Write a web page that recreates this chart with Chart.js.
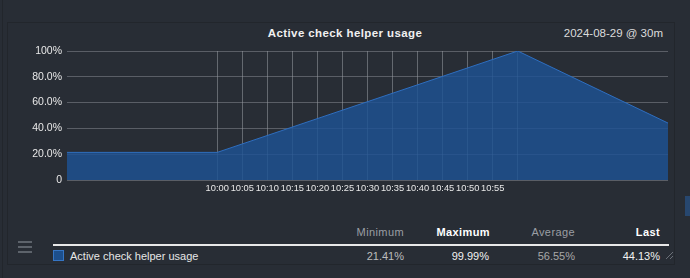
<!DOCTYPE html>
<html>
<head>
<meta charset="utf-8">
<script src="https://cdn.jsdelivr.net/npm/chart.js@4/dist/chart.umd.min.js"></script>
<style>
  html, body { margin: 0; padding: 0; background: #282d35; width: 690px; height: 278px; overflow: hidden; font-family: "Liberation Sans", Arial, sans-serif; }
  .edge { position: absolute; left: 2px; top: 0; width: 1px; height: 278px; background: #22262c; }
  .panel { position: absolute; left: 7px; top: 22px; width: 666px; height: 241px; border: 1px solid #22262c; }
  .title { position: absolute; left: 0; width: 690px; top: 27px; text-align: center; color: #f0f0f0; font-weight: bold; font-size: 11.5px; letter-spacing: 0.4px; }
  .stamp { position: absolute; right: 27px; top: 27px; color: #dcdcdc; font-size: 11.5px; }
  #wrap { position: absolute; left: 0; top: 0; width: 690px; height: 200px; }
  .menu { position: absolute; left: 18px; top: 241px; width: 14px; }
  .menu div { height: 2px; background: #5d636b; margin-bottom: 3px; }
  .hdr, .row { position: absolute; font-size: 11px; text-align: right; }
  .hdr { top: 226px; letter-spacing: 0.4px; }
  .row { top: 250px; color: #bdbdbd; }
  .sep { position: absolute; left: 53px; top: 244px; height: 2px; background: #e8e8e8; width: 616px; }
  .box { position: absolute; left: 53px; top: 250px; width: 9px; height: 9px; background: #1d4f8c; border: 1px solid #3575c4; }
  .name { position: absolute; left: 70px; top: 250px; color: #e6e6e6; font-size: 11px; }
  .grip { position: absolute; left: 664px; top: 249px; width: 9px; height: 10px;
          background: repeating-linear-gradient(135deg, transparent 0 2px, #6b7078 2px 3px); clip-path: polygon(100% 0, 100% 100%, 0 100%); }
  .scroll { position: absolute; left: 685px; top: 196px; width: 5px; height: 20px; background: #27476f; }
</style>
</head>
<body>
<div class="edge"></div>
<div class="panel"></div>
<div class="title">Active check helper usage</div>
<div class="stamp">2024-08-29 @ 30m</div>
<div id="wrap"><canvas id="c"></canvas></div>
<div class="menu"><div></div><div></div><div></div></div>
<div class="hdr" style="right:286px;color:#9a9ea4">Minimum</div>
<div class="hdr" style="right:200px;color:#ffffff;font-weight:bold">Maximum</div>
<div class="hdr" style="right:115px;color:#9a9ea4">Average</div>
<div class="hdr" style="right:30px;color:#ffffff;font-weight:bold">Last</div>
<div class="sep"></div>
<div class="box"></div>
<div class="name">Active check helper usage</div>
<div class="row" id="vMin" style="right:286px"></div>
<div class="row" id="vMax" style="right:201px;color:#f2f2f2"></div>
<div class="row" id="vAvg" style="right:115px;color:#a8a8a8"></div>
<div class="row" id="vLast" style="right:30px;color:#f2f2f2"></div>
<div class="grip"></div>
<div class="scroll"></div>
<script>
// minutes since midnight
const times = [570, 600, 660, 690]
const usage = [21.41, 21.41, 99.99, 44.13]
const tickTimes = [600, 605, 610, 615, 620, 625, 630, 635, 640, 645, 650, 655, 660]
const yTicks = [0, 20, 40, 60, 80, 100]
const stats = { min: '21.41%', max: '99.99%', avg: '56.55%', last: '44.13%' }

document.getElementById('vMin').textContent = stats.min
document.getElementById('vMax').textContent = stats.max
document.getElementById('vAvg').textContent = stats.avg
document.getElementById('vLast').textContent = stats.last

const pad = n => String(n).padStart(2, '0')
const fmtTime = m => pad(Math.floor(m / 60)) + ':' + pad(m % 60)

const canvas = document.getElementById('c')
new Chart(canvas, {
  type: 'line',
  data: {
    datasets: [{
      label: 'Active check helper usage',
      data: times.map((t, i) => ({ x: t, y: usage[i] })),
      borderColor: '#2f6fc0',
      borderWidth: 1,
      backgroundColor: 'rgba(29,82,148,0.82)',
      fill: 'origin',
      pointRadius: 0,
      tension: 0,
    }]
  },
  options: {
    animation: false,
    responsive: true,
    maintainAspectRatio: false,
    layout: { padding: { left: 0, right: 22, top: 51, bottom: 0 } },
    plugins: { legend: { display: false }, tooltip: { enabled: false } },
    scales: {
      x: {
        type: 'linear',
        min: 570,
        max: 690,
        afterBuildTicks: s => { s.ticks = tickTimes.map(v => ({ value: v })) },
        afterFit: s => { s.height = 20 },
        ticks: {
          autoSkip: false,
          maxRotation: 0,
          padding: 3,
          color: '#e8e8e8',
          font: { family: 'Liberation Sans', size: 9.3 },
          callback: v => v === 660 ? '' : fmtTime(v),
        },
        grid: { color: 'rgba(160,165,172,0.5)', drawTicks: false },
        border: { display: false },
      },
      y: {
        min: 0,
        max: 100,
        afterBuildTicks: s => { s.ticks = yTicks.map(v => ({ value: v })) },
        afterFit: s => { s.width = 67 },
        ticks: {
          padding: 5,
          color: '#e8e8e8',
          font: { family: 'Liberation Sans', size: 10.5 },
          callback: v => v === 0 ? '0' : v === 100 ? '100%' : v.toFixed(1) + '%',
        },
        grid: { color: 'rgba(150,155,162,0.45)', drawTicks: false },
        border: { display: false },
      }
    }
  }
})
</script>
</body>
</html>
